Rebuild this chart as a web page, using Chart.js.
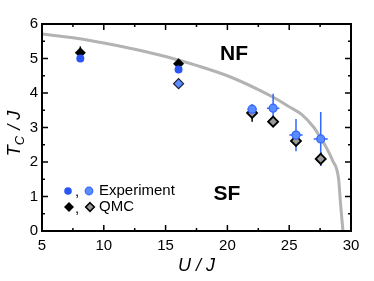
<!DOCTYPE html>
<html>
<head>
<meta charset="utf-8">
<script src="https://cdn.jsdelivr.net/npm/chart.js@4/dist/chart.umd.min.js"></script>
<style>
  html, body { margin: 0; padding: 0; background: #fff; }
  #wrap { width: 374px; height: 281px; }
</style>
</head>
<body>
<div id="wrap"><canvas id="tcChart"></canvas></div>
<script>
// experiment, filled circles
const expFilledU = [8.1, 16.05];
const expFilledT = [5.0, 4.68];
// experiment, light circles with error bars
const expOpenU = [22.0, 23.7, 25.55, 27.55];
const expOpenT = [3.53, 3.56, 2.78, 2.67];
const expOpenUErr = [0.38, 0.5, 0.54, 0.57];
const expOpenTErr = [0.0, 0.42, 0.47, 0.78];
// QMC, filled diamonds
const qmcFilledU = [8.1, 16.05];
const qmcFilledT = [5.17, 4.85];
const qmcFilledTErr = [0.18, 0.12];
// QMC, open diamonds
const qmcOpenU = [22.0, 23.7, 25.55, 27.55];
const qmcOpenT = [3.42, 3.17, 2.61, 2.09];
const qmcOpenTErr = [0.25, 0.0, 0.0, 0.2];
// blue diamond at U/J = 16
const qmcBlueU = [16.05];
const qmcBlueT = [4.27];
// phase boundary (gray line)
const boundaryU = [5, 7.5, 10, 12.5, 15, 17.5, 20, 22.5, 24, 25, 26, 27, 27.5, 28, 28.5, 29, 29.15, 29.35];
const boundaryT = [5.71, 5.6, 5.45, 5.27, 5.06, 4.8, 4.5, 4.1, 3.82, 3.6, 3.38, 3.0, 2.72, 2.42, 2.05, 1.5, 0.8, 0.0];

const xTicks = [5, 10, 15, 20, 25, 30];
const yTicks = [0, 1, 2, 3, 4, 5, 6];

const blue = "#2a56f5";
const lightBlue = "#5b8cff";
const tickFont = { family: "Liberation Sans, Arial", size: 15 };

function pts(xs, ys) {
  return xs.map((x, i) => ({ x: x, y: ys[i] }));
}

// error bars, drawn right after the gray line so markers sit on top
const errorBars = {
  id: "errorBars",
  afterDatasetDraw(chart, args) {
    if (args.index !== 5) return;
    const ctx = chart.ctx;
    const xs = chart.scales.x, ys = chart.scales.y;
    ctx.save();
    ctx.lineWidth = 1.5;
    // black QMC bars
    ctx.strokeStyle = "#000";
    qmcFilledU.forEach((u, i) => {
      const px = xs.getPixelForValue(u);
      ctx.beginPath();
      ctx.moveTo(px, ys.getPixelForValue(qmcFilledT[i] - qmcFilledTErr[i]));
      ctx.lineTo(px, ys.getPixelForValue(qmcFilledT[i] + qmcFilledTErr[i]));
      ctx.stroke();
    });
    qmcOpenU.forEach((u, i) => {
      if (!qmcOpenTErr[i]) return;
      const px = xs.getPixelForValue(u);
      ctx.beginPath();
      ctx.moveTo(px, ys.getPixelForValue(qmcOpenT[i] - qmcOpenTErr[i]));
      ctx.lineTo(px, ys.getPixelForValue(qmcOpenT[i] + qmcOpenTErr[i]));
      ctx.stroke();
    });
    // blue experiment bars
    ctx.strokeStyle = "#3366ff";
    expOpenU.forEach((u, i) => {
      const px = xs.getPixelForValue(u);
      const py = ys.getPixelForValue(expOpenT[i]);
      ctx.beginPath();
      ctx.moveTo(xs.getPixelForValue(u - expOpenUErr[i]), py);
      ctx.lineTo(xs.getPixelForValue(u + expOpenUErr[i]), py);
      if (expOpenTErr[i]) {
        ctx.moveTo(px, ys.getPixelForValue(expOpenT[i] - expOpenTErr[i]));
        ctx.lineTo(px, ys.getPixelForValue(expOpenT[i] + expOpenTErr[i]));
      }
      ctx.stroke();
    });
    ctx.restore();
  },
};

// frame, inward ticks, labels and legend
const decorations = {
  id: "decorations",
  afterDraw(chart) {
    const ctx = chart.ctx;
    const a = chart.chartArea;
    const xs = chart.scales.x, ys = chart.scales.y;
    ctx.save();
    ctx.strokeStyle = "#000";
    ctx.lineWidth = 2;
    ctx.strokeRect(a.left, a.top, a.right - a.left, a.bottom - a.top);

    ctx.lineWidth = 1.5;
    ctx.beginPath();
    for (let v = 5; v <= 30; v += 2.5) {
      const px = xs.getPixelForValue(v);
      const len = v % 5 === 0 ? 6 : 3;
      ctx.moveTo(px, a.bottom); ctx.lineTo(px, a.bottom - len);
      ctx.moveTo(px, a.top); ctx.lineTo(px, a.top + len);
    }
    for (let v = 0; v <= 6; v += 0.5) {
      const py = ys.getPixelForValue(v);
      const len = v % 1 === 0 ? 6 : 3;
      ctx.moveTo(a.left, py); ctx.lineTo(a.left + len, py);
      ctx.moveTo(a.right, py); ctx.lineTo(a.right - len, py);
    }
    ctx.stroke();

    // phase labels
    ctx.fillStyle = "#000";
    ctx.font = "bold 21px Liberation Sans, Arial";
    ctx.textAlign = "center";
    ctx.textBaseline = "middle";
    ctx.fillText("NF", 234, 54);
    ctx.fillText("SF", 227, 194);

    // y axis title with subscript
    ctx.save();
    ctx.translate(14, 134);
    ctx.rotate(-Math.PI / 2);
    ctx.textAlign = "left";
    ctx.textBaseline = "alphabetic";
    ctx.font = "italic 18px Liberation Sans, Arial";
    const w0 = ctx.measureText("T").width;
    ctx.font = "italic 13px Liberation Sans, Arial";
    const w1 = ctx.measureText("C").width;
    ctx.font = "italic 18px Liberation Sans, Arial";
    const w2 = ctx.measureText(" / J").width;
    let x0 = -(w0 + w1 + w2) / 2;
    ctx.fillText("T", x0, 6);
    ctx.font = "italic 13px Liberation Sans, Arial";
    ctx.fillText("C", x0 + w0, 10);
    ctx.font = "italic 18px Liberation Sans, Arial";
    ctx.fillText(" / J", x0 + w0 + w1 + 1, 6);
    ctx.restore();

    // legend
    ctx.font = "15px Liberation Sans, Arial";
    ctx.textAlign = "left";
    ctx.textBaseline = "middle";
    ctx.lineWidth = 1.2;
    ctx.fillStyle = blue;
    ctx.beginPath(); ctx.arc(68, 191, 3.8, 0, Math.PI * 2); ctx.fill();
    ctx.fillStyle = lightBlue;
    ctx.strokeStyle = "#3366ff";
    ctx.beginPath(); ctx.arc(89, 191, 3.8, 0, Math.PI * 2); ctx.fill(); ctx.stroke();
    ctx.fillStyle = "#000";
    ctx.fillText(",", 75, 192);
    ctx.fillText("Experiment", 99, 191);
    const diamond = (cx, cy, r) => {
      ctx.beginPath();
      ctx.moveTo(cx, cy - r); ctx.lineTo(cx + r, cy);
      ctx.lineTo(cx, cy + r); ctx.lineTo(cx - r, cy); ctx.closePath();
    };
    ctx.fillStyle = "#000";
    diamond(69, 207, 5); ctx.fill();
    ctx.fillStyle = "#999";
    ctx.strokeStyle = "#000";
    ctx.lineWidth = 1.6;
    diamond(90, 207, 4.3); ctx.fill(); ctx.stroke();
    ctx.fillStyle = "#000";
    ctx.fillText(",", 75, 209);
    ctx.fillText("QMC", 99, 207);
    ctx.restore();
  },
};

new Chart(document.getElementById("tcChart").getContext("2d"), {
  type: "scatter",
  data: {
    datasets: [
      {
        label: "Experiment",
        data: pts(expFilledU, expFilledT),
        backgroundColor: blue,
        borderColor: blue,
        pointRadius: 4,
        borderWidth: 0,
      },
      {
        label: "Experiment (err)",
        data: pts(expOpenU, expOpenT),
        backgroundColor: lightBlue,
        borderColor: "#3366ff",
        pointRadius: 4,
        borderWidth: 1.2,
      },
      {
        label: "QMC blue",
        data: pts(qmcBlueU, qmcBlueT),
        pointStyle: "rectRot",
        backgroundColor: lightBlue,
        borderColor: "#223",
        pointRadius: 5,
        borderWidth: 1.2,
      },
      {
        label: "QMC",
        data: pts(qmcFilledU, qmcFilledT),
        pointStyle: "rectRot",
        backgroundColor: "#000",
        borderColor: "#000",
        pointRadius: 5.5,
        borderWidth: 0,
      },
      {
        label: "QMC (open)",
        data: pts(qmcOpenU, qmcOpenT),
        pointStyle: "rectRot",
        backgroundColor: "#999",
        borderColor: "#000",
        pointRadius: 5,
        borderWidth: 1.8,
      },
      {
        label: "boundary",
        data: pts(boundaryU, boundaryT),
        showLine: true,
        borderColor: "#b3b3b3",
        borderWidth: 3,
        pointRadius: 0,
        cubicInterpolationMode: "monotone",
        fill: false,
      },
    ],
  },
  options: {
    responsive: true,
    maintainAspectRatio: false,
    animation: false,
    layout: { padding: { top: 24, right: 23, left: 0, bottom: 0 } },
    plugins: {
      legend: { display: false },
      tooltip: { enabled: false },
    },
    scales: {
      x: {
        type: "linear",
        min: 5,
        max: 30,
        afterBuildTicks: (s) => { s.ticks = xTicks.map((v) => ({ value: v })); },
        afterFit: (s) => { s.height = 50; },
        grid: { display: false, drawTicks: false },
        border: { display: false },
        ticks: { color: "#000", font: tickFont, padding: 6, maxRotation: 0 },
        title: {
          display: true,
          text: "U / J",
          color: "#000",
          font: { family: "Liberation Sans, Arial", size: 18, style: "italic" },
          padding: { top: 4 },
        },
      },
      y: {
        type: "linear",
        min: 0,
        max: 6,
        afterBuildTicks: (s) => { s.ticks = yTicks.map((v) => ({ value: v })); },
        afterFit: (s) => { s.width = 42; },
        grid: { display: false, drawTicks: false },
        border: { display: false },
        ticks: { color: "#000", font: tickFont, padding: 4 },
      },
    },
  },
  plugins: [errorBars, decorations],
});
</script>
</body>
</html>
